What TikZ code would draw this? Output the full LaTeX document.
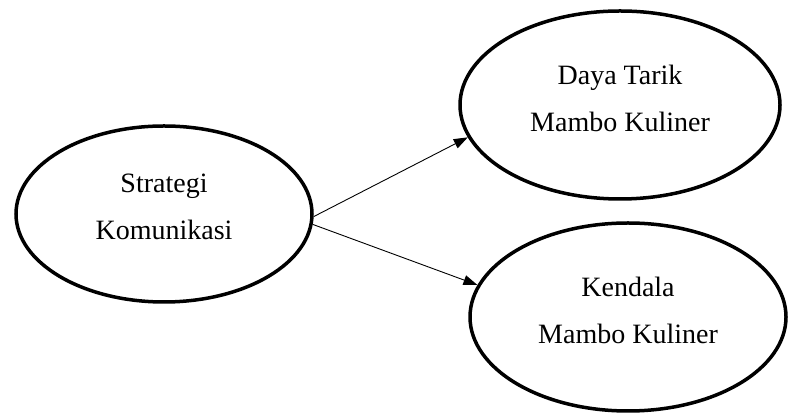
\documentclass[tikz,border=0pt]{standalone}
\usepackage{fontspec}
\setmainfont{Liberation Serif}
\usetikzlibrary{positioning,arrows.meta}
\usetikzlibrary{shapes.geometric}

\begin{document}
\begin{tikzpicture}[x=1pt,y=1pt,
                every node/.style={ellipse, draw, line width=3.5pt, align=center,
                    font=\fontsize{28}{47}\selectfont,
                    execute at end node={\rule[-14pt]{0pt}{0pt}}},
                conn/.style={-{Triangle[length=14pt,width=10pt]}, line width=0.9pt}]
            \useasboundingbox (0,0) rectangle (789,414);

            \node[minimum width=296pt, minimum height=176pt] (strat) at (164,200) {Strategi\\Komunikasi};
            \node[minimum width=320pt, minimum height=188pt] (daya) at (620,309) {Daya Tarik\\Mambo Kuliner};
            \node[minimum width=316pt, minimum height=188pt] (kend) at (628,97) {Kendala\\Mambo Kuliner};

            \draw[conn] (strat.-1) -- (daya.192);
            \draw[conn] (strat.-4) -- (kend.168);
        \end{tikzpicture}
\end{document}
